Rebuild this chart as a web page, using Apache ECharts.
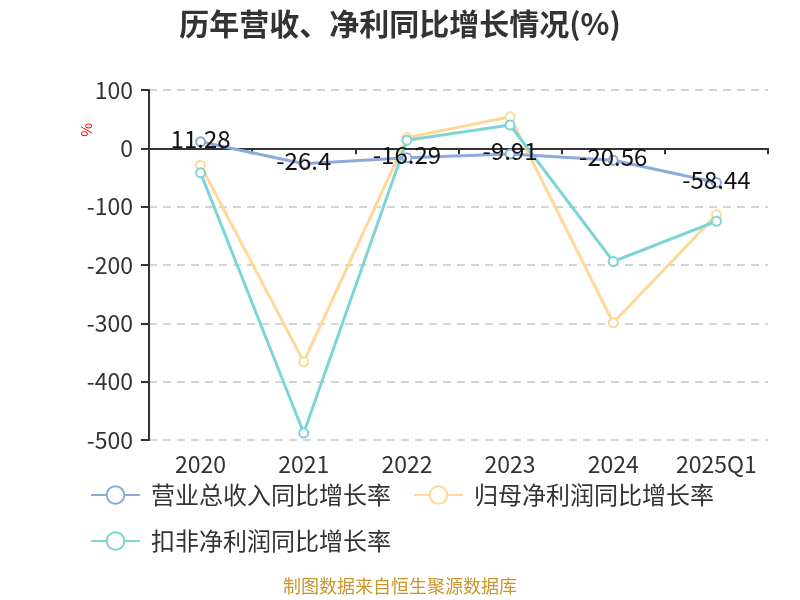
<!DOCTYPE html>
<html><head><meta charset="utf-8">
<script src="https://cdn.jsdelivr.net/npm/echarts@6/dist/echarts.min.js"></script>
<style>html,body{margin:0;padding:0;background:#fff}#c{width:800px;height:600px}</style>
</head><body><div id="c"></div>
<script>
const categories = ['2020','2021','2022','2023','2024','2025Q1'];
const revenueGrowth = [11.28, -26.4, -16.29, -9.91, -20.56, -58.44];
const parentProfitGrowth = [-29, -366, 18, 54, -299, -114];
const deductedProfitGrowth = [-42, -488, 14, 40, -194, -125];
const yTicks = {min: -500, max: 100, interval: 100};

const chart = echarts.init(document.getElementById('c'));
const font = '"Microsoft YaHei","Noto Sans CJK SC",sans-serif';
chart.setOption({
  animation: false,
  textStyle: {fontFamily: font},
  title: {text: '历年营收、净利同比增长情况(%)', left: 'center', top: 4,
    textStyle: {fontSize: 30, fontWeight: 'bold', color: '#333', fontFamily: font}},
  graphic: [
    {type: 'text', left: 79, top: 123, rotation: Math.PI/2,
     style: {text: '%', fill: '#ff0000', fontSize: 15, fontFamily: font}},
    {type: 'text', left: 'center', top: 577,
     style: {text: '制图数据来自恒生聚源数据库', fill: '#C9962B', fontSize: 18, fontFamily: font}}
  ],
  legend: {left: 85, right: 20, top: 478, itemWidth: 49, itemHeight: 22, itemGap: 22,
    textStyle: {fontSize: 24, color: '#333', fontFamily: font, padding: [0, 0, 0, 6]},
    data: ['营业总收入同比增长率','归母净利润同比增长率','扣非净利润同比增长率']},
  grid: {left: 149, right: 32, top: 90, bottom: 160, containLabel: false},
  xAxis: [
    {type: 'category', data: categories, boundaryGap: true,
     axisLine: {onZero: true, lineStyle: {color: '#333', width: 2}},
     axisTick: {show: true, length: 6, lineStyle: {color: '#333', width: 2}},
     axisLabel: {show: false}},
    {type: 'category', data: categories, position: 'bottom', boundaryGap: true,
     axisLine: {show: false}, axisTick: {show: false},
     axisLabel: {interval: 0, hideOverlap: false, fontSize: 23, color: '#333', margin: 13, fontFamily: font}}
  ],
  yAxis: {type: 'value', min: yTicks.min, max: yTicks.max, interval: yTicks.interval,
    axisLine: {show: true, lineStyle: {color: '#333', width: 2}},
    axisTick: {show: true, length: 8, lineStyle: {color: '#333', width: 2}},
    axisLabel: {fontSize: 23, color: '#333', margin: 16, fontFamily: font},
    splitLine: {lineStyle: {type: [8, 6], color: '#c8c8c8', width: 1.5}}},
  series: [
    {name: '营业总收入同比增长率', type: 'line', xAxisIndex: 0, data: revenueGrowth,
     symbol: 'emptyCircle', symbolSize: 9, z: 3,
     itemStyle: {color: '#8DAADB', borderWidth: 2},
     lineStyle: {width: 3, color: '#8DAADB'},
     label: {show: true, position: 'inside', offset: [0, -3], fontSize: 24, color: '#111', fontFamily: font}},
    {name: '归母净利润同比增长率', type: 'line', xAxisIndex: 0, data: parentProfitGrowth,
     symbol: 'emptyCircle', symbolSize: 9, z: 2,
     itemStyle: {color: '#FFD898', borderWidth: 2},
     lineStyle: {width: 3, color: '#FFD898'}},
    {name: '扣非净利润同比增长率', type: 'line', xAxisIndex: 0, data: deductedProfitGrowth,
     symbol: 'emptyCircle', symbolSize: 9, z: 2,
     itemStyle: {color: '#7ED5D8', borderWidth: 2},
     lineStyle: {width: 3, color: '#7ED5D8'}}
  ]
});
</script></body></html>
